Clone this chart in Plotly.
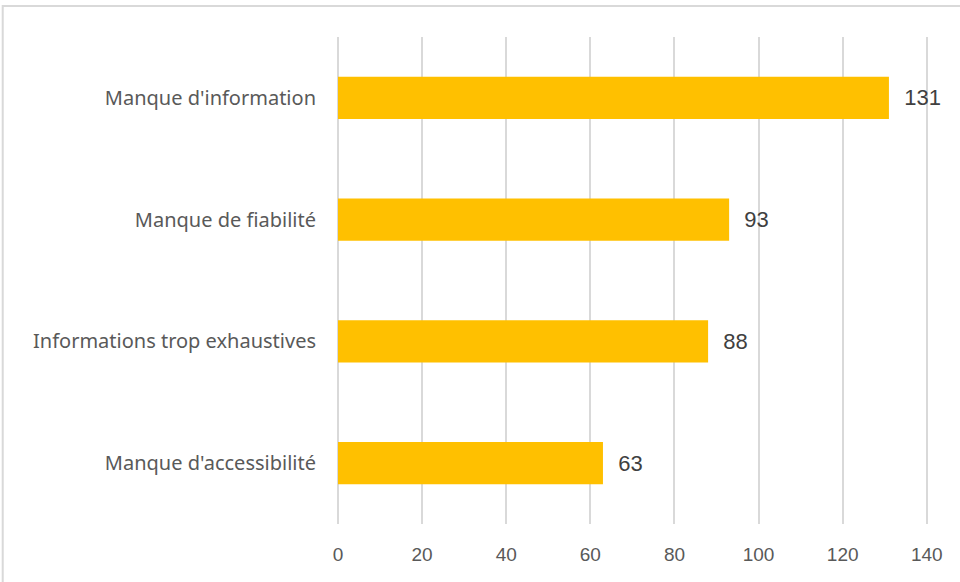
import plotly.graph_objects as go

# categories listed bottom to top, as plotly draws them
categories = ["Manque d'accessibilité", "Informations trop exhaustives",
              "Manque de fiabilité", "Manque d'information"]
counts = [63, 88, 93, 131]
tick_vals = [0, 20, 40, 60, 80, 100, 120, 140]

fig = go.Figure(go.Bar(
    y=categories,
    x=counts,
    orientation='h',
    marker=dict(color='#FFC000', line=dict(width=0)),
    texttemplate='\u00a0\u00a0%{x}',
    textposition='outside',
    textfont=dict(family='Liberation Sans', size=22, color='#404040'),
    cliponaxis=False,
))

fig.update_layout(
    width=960, height=582,
    margin=dict(l=338, r=29, t=37, b=58),
    paper_bgcolor='white',
    plot_bgcolor='white',
    bargap=0.655,
    showlegend=False,
    xaxis=dict(
        range=[0, 141],
        tickvals=tick_vals,
        showgrid=True, gridcolor='#d9d9d9', gridwidth=2,
        zeroline=True, zerolinecolor='#d9d9d9', zerolinewidth=2,
        showline=False,
        ticks='outside', ticklen=13, tickcolor='rgba(0,0,0,0)',
        tickfont=dict(family='Liberation Sans', size=19, color='#595959'),
    ),
    yaxis=dict(
        showgrid=False, zeroline=False, showline=False,
        ticks='outside', ticklen=17, tickcolor='rgba(0,0,0,0)',
        tickfont=dict(family='Noto Sans', size=20, color='#595959'),
    ),
)

# outer chart frame, runs off the right and bottom of the picture
fig.add_shape(type='rect', xref='paper', yref='paper',
              x0=-0.5654, y0=-0.3, x1=1.3, y1=1.0637,
              line=dict(color='#d9d9d9', width=2), layer='below')

fig.write_html("out.html", config={'displayModeBar': False},
               post_script="document.body.style.margin='0px';")
